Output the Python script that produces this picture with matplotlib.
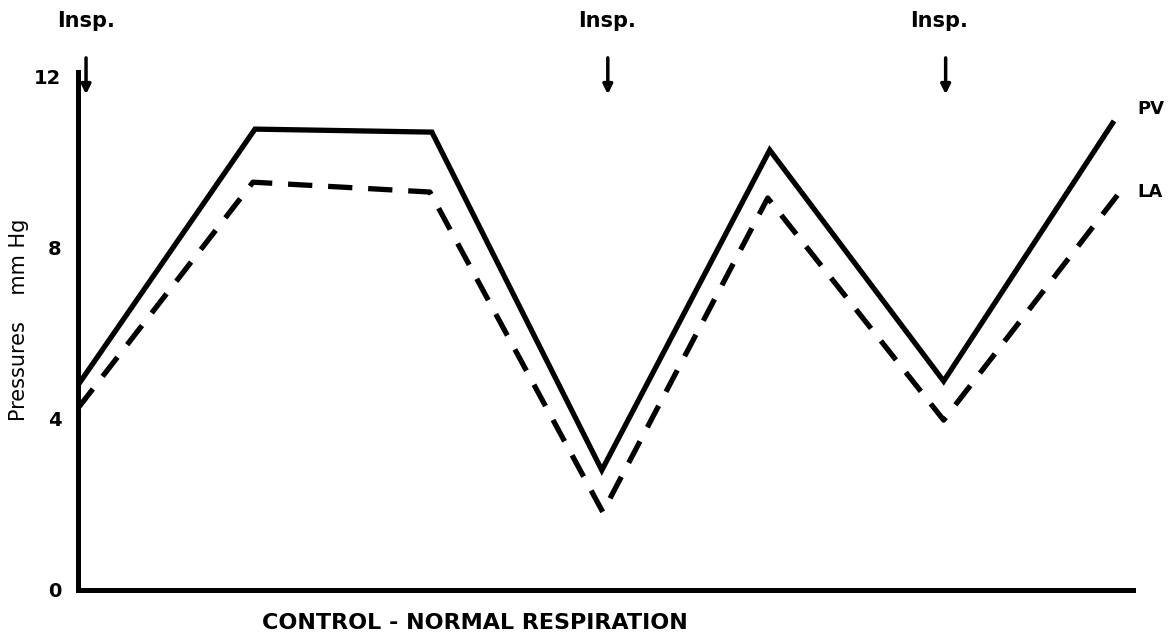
import matplotlib.pyplot as plt

# time axis (arbitrary units), pressures in mm Hg
pv_t = [0, 17.7, 35.4, 52.4, 69.2, 86.6, 103.5]
pv_p = [4.79, 10.77, 10.70, 2.80, 10.28, 4.88, 10.91]

la_t = [0, 17.5, 35.2, 52.5, 69.0, 86.6, 104.0]
la_p = [4.25, 9.53, 9.30, 1.82, 9.16, 3.97, 9.23]

insp_t = [0.8, 53.0, 86.8]
insp_label_t = [0.8, 52.9, 86.1]
yticks = [0, 4, 8, 12]

fig = plt.figure(figsize=(11.7, 6.39), dpi=100)
ax = fig.add_axes([0.0667, 0.0767, 0.9013, 0.8103])

ax.plot(pv_t, pv_p, color='black', lw=3.8, solid_joinstyle='miter')
ax.plot(la_t, la_p, color='black', lw=3.8, dashes=(4.6, 3.0),
        dash_capstyle='butt')

ax.set_xlim(0, 105.5)
ax.set_ylim(0, 12.1)
ax.set_xticks([])
ax.set_yticks(yticks)
ax.tick_params(axis='y', length=0, pad=12, labelsize=14)
for lab in ax.get_yticklabels():
    lab.set_fontweight('bold')
for s in ['top', 'right']:
    ax.spines[s].set_visible(False)
for s in ['left', 'bottom']:
    ax.spines[s].set_linewidth(3.6)

fig.text(0.016, 0.5, 'Pressures    mm Hg', rotation=90, ha='center',
         va='center', fontsize=15)

for t, tl in zip(insp_t, insp_label_t):
    ax.annotate('', xy=(t, 11.52), xytext=(t, 12.5),
                arrowprops=dict(arrowstyle='-|>', color='black', lw=2.5,
                                mutation_scale=14),
                annotation_clip=False)
    ax.text(tl, 13.3, 'Insp.', ha='center', va='center', fontsize=15,
            fontweight='bold', clip_on=False)

ax.text(106.0, 11.25, 'PV', ha='left', va='center', fontsize=13,
        fontweight='bold', clip_on=False)
ax.text(106.0, 9.3, 'LA', ha='left', va='center', fontsize=13,
        fontweight='bold', clip_on=False)

fig.text(0.406, 0.025, 'CONTROL - NORMAL RESPIRATION', ha='center',
         va='center', fontsize=16, fontweight='bold')

fig.savefig('out.png', dpi=100)
